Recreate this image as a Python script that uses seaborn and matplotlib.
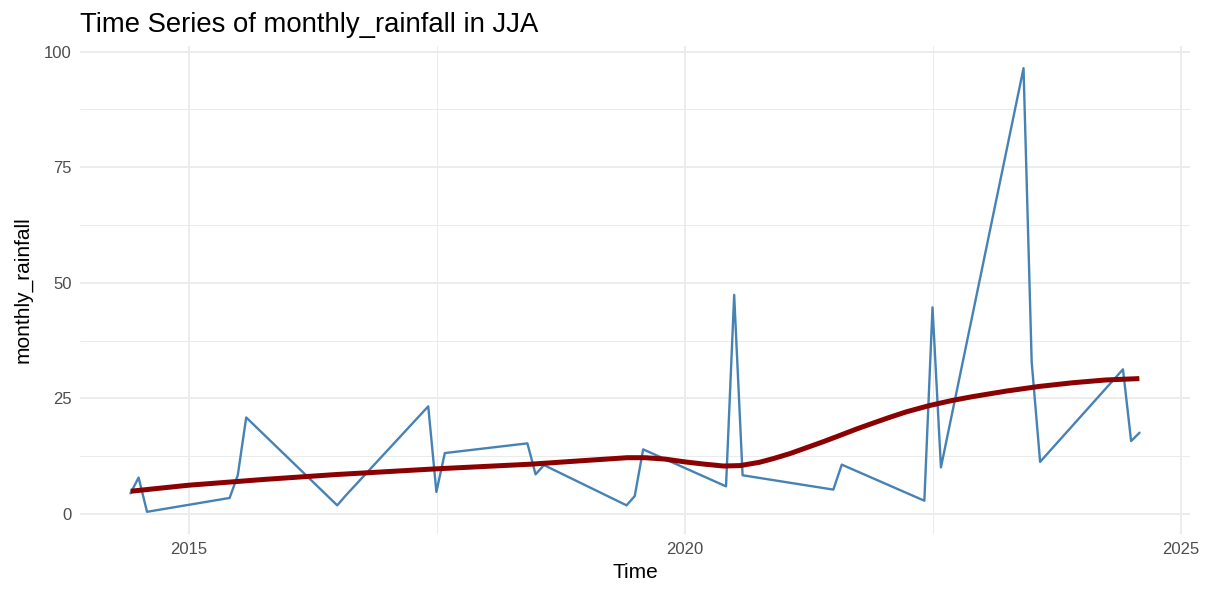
import numpy as np
import pandas as pd
import matplotlib
matplotlib.use("Agg")
import matplotlib.pyplot as plt
import matplotlib.dates as mdates
from matplotlib.ticker import FixedLocator
import seaborn as sns

# ---- data ----
dates = [
    "2014-06-01", "2014-07-01", "2014-08-01",
    "2015-06-01", "2015-07-01", "2015-08-01",
    "2016-07-01", "2016-08-01",
    "2017-06-01", "2017-07-01", "2017-08-01",
    "2018-06-01", "2018-07-01", "2018-08-01",
    "2019-06-01", "2019-07-01", "2019-08-01",
    "2020-06-01", "2020-07-01", "2020-08-01",
    "2021-07-01", "2021-08-01",
    "2022-06-01", "2022-07-01", "2022-08-01",
    "2023-06-01", "2023-07-01", "2023-08-01",
    "2024-06-01", "2024-07-01", "2024-08-01",
]
monthly_rainfall = [
    4.5, 7.9, 0.5,
    3.5, 8.4, 20.9,
    1.9, 4.0,
    23.3, 4.8, 13.2,
    15.3, 8.6, 10.6,
    1.9, 3.9, 14.0,
    6.0, 47.4, 8.4,
    5.3, 10.7,
    2.9, 44.7, 10.1,
    96.4, 32.9, 11.3,
    31.3, 15.8, 17.6,
]
# smoothed trend (geom_smooth curve), decimal years
trend_years = [
    2014.416, 2015.00, 2015.76, 2016.48, 2017.50, 2018.45, 2019.00,
    2019.42, 2019.60, 2019.80, 2020.00, 2020.20, 2020.39, 2020.56,
    2020.75, 2020.89, 2021.06, 2021.23, 2021.40, 2021.56, 2021.73,
    2021.90, 2022.06, 2022.23, 2022.47, 2022.70, 2022.90, 2023.24,
    2023.57, 2023.91, 2024.24, 2024.58,
]
trend_values = [
    4.95, 6.25, 7.5, 8.55, 9.8, 10.8, 11.6,
    12.2, 12.2, 11.9, 11.3, 10.8, 10.4, 10.5,
    11.2, 12.0, 13.1, 14.4, 15.7, 17.0, 18.4,
    19.7, 20.9, 22.1, 23.5, 24.6, 25.4, 26.6,
    27.6, 28.4, 29.0, 29.3,
]
title = "Time Series of monthly_rainfall in JJA"
x_label = "Time"
y_label = "monthly_rainfall"
y_ticks = [0, 25, 50, 75, 100]
x_tick_years = [2015, 2020, 2025]


def decimal_year_to_ts(y):
    yr = int(np.floor(y))
    start = pd.Timestamp(f"{yr}-01-01")
    end = pd.Timestamp(f"{yr + 1}-01-01")
    return start + (end - start) * (y - yr)


df = pd.DataFrame({"Time": pd.to_datetime(dates), "monthly_rainfall": monthly_rainfall})
trend = pd.DataFrame({"Time": [decimal_year_to_ts(y) for y in trend_years],
                      "fit": trend_values})

# ---- style ----
sns.set_theme(style="white")
plt.rcParams["font.family"] = ["Liberation Sans", "DejaVu Sans"]

fig = plt.figure(figsize=(12.15, 5.92), dpi=100)
ax = fig.add_axes([80 / 1215, 1 - 534 / 592, (1190 - 80) / 1215, (534 - 46) / 592])

sns.lineplot(data=df, x="Time", y="monthly_rainfall", ax=ax,
             color="#4682B4", linewidth=1.7, zorder=3)
sns.lineplot(data=trend, x="Time", y="fit", ax=ax,
             color="#8B0000", linewidth=3.6, zorder=4,
             solid_capstyle="butt", solid_joinstyle="round")

# limits with ggplot-like 5% expansion
xnum = mdates.date2num(df["Time"])
ynum = np.asarray(monthly_rainfall, dtype=float)
xr = xnum.max() - xnum.min()
ax.set_xlim(xnum.min() - 0.05 * xr, xnum.max() + 0.05 * xr)
yr = ynum.max() - ynum.min()
ax.set_ylim(ynum.min() - 0.05 * yr, ynum.max() + 0.05 * yr)

major_x = [mdates.date2num(pd.Timestamp(f"{y}-01-01")) for y in x_tick_years]
minor_x = [(a + b) / 2 for a, b in zip(major_x[:-1], major_x[1:])]
ax.xaxis.set_major_locator(FixedLocator(major_x))
ax.xaxis.set_minor_locator(FixedLocator(minor_x))
ax.set_xticklabels([str(y) for y in x_tick_years])
ax.yaxis.set_major_locator(FixedLocator(y_ticks))
ax.yaxis.set_minor_locator(FixedLocator([12.5, 37.5, 62.5, 87.5]))
ax.set_yticklabels([str(v) for v in y_ticks])

ax.grid(which="major", color="#EBEBEB", linewidth=1.3, zorder=0)
ax.grid(which="minor", color="#EBEBEB", linewidth=0.7, zorder=0)
ax.set_axisbelow(True)
for s in ax.spines.values():
    s.set_visible(False)
ax.tick_params(which="both", length=0)
ax.tick_params(axis="both", labelsize=12, labelcolor="#4D4D4D", pad=6)

ax.set_xlabel(x_label, fontsize=15, color="black", labelpad=4)
ax.set_ylabel(y_label, fontsize=15, color="black", labelpad=8)
ax.set_title(title, fontsize=19.8, color="black", loc="left", pad=10)

fig.savefig("out.png", dpi=100)
